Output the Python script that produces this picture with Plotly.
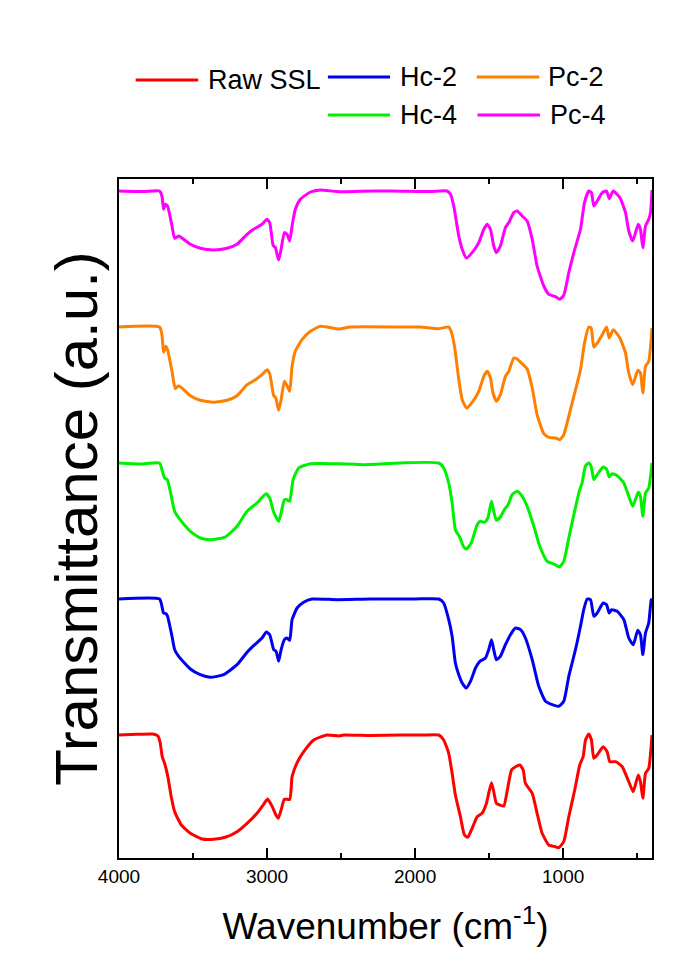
import plotly.graph_objects as go

# FTIR spectra of raw and treated SSL samples, stacked with a constant offset.
# Each band depth is measured downward from the flat baseline (a.u.).

raw_ssl_wn = [4000, 3882, 3770, 3737, 3721, 3708, 3692, 3670, 3647, 3624, 3579, 3518, 3439, 3361, 3282, 3203,
              3135, 3068, 3023, 2996, 2967, 2940, 2924, 2905, 2883, 2847, 2831, 2797, 2752, 2685, 2595, 2516,
              2482, 2300, 2100, 1950, 1840, 1807, 1773, 1750, 1728, 1694, 1667, 1644, 1615, 1581, 1548, 1518,
              1503, 1484, 1469, 1451, 1428, 1401, 1379, 1349, 1322, 1293, 1270, 1255, 1209, 1176, 1142, 1097,
              1052, 1030, 996, 962, 922, 888, 865, 849, 827, 809, 793, 770, 730, 703, 685, 646, 601, 557, 527,
              493, 478, 462, 444, 422, 400]
raw_ssl_depth = [0, -0.7, -1, 1, 8.3, 21.7, 28.3, 41.7, 61.7, 76.7, 90, 98.3, 104, 104.3, 102.3, 96.7,
                 88.3, 78.3, 69.3, 64, 71, 80, 83.3, 75, 64.3, 64.3, 41.7, 27.7, 16.7, 5, 0, 1,
                 0, 0.5, 0, 0, 0, 5, 18.3, 38.3, 60, 81.7, 100, 102.3, 93.3, 81.7, 78.3, 68.3,
                 58.3, 47.7, 56.7, 68.3, 70, 71, 56.7, 35, 31.7, 30, 35, 48.3, 58.3, 78.3, 98.3, 110,
                 111.7, 112.7, 106.7, 81.7, 55, 30, 21.7, 5, -1, 5, 23.3, 20, 11.7, 16.7, 26.7, 26.7, 31.7, 46.7, 56.7,
                 40, 46.7, 63.3, 38.3, 33.3, 0]

hc2_wn = [4000, 3726, 3710, 3699, 3682, 3672, 3642, 3624, 3597, 3518, 3451, 3383, 3293, 3203, 3135, 3091,
          3034, 3005, 2982, 2955, 2939, 2922, 2905, 2883, 2865, 2847, 2831, 2797, 2753, 2696, 2527, 2300,
          2000, 1840, 1807, 1773, 1750, 1728, 1705, 1682, 1655, 1626, 1592, 1563, 1525, 1503, 1484, 1469,
          1451, 1424, 1390, 1356, 1322, 1288, 1255, 1209, 1165, 1119, 1074, 1030, 996, 962, 917, 883,
          861, 838, 815, 793, 770, 730, 707, 689, 673, 635, 590, 557, 527, 496, 478, 462, 444, 422, 405, 400]
hc2_depth = [0, 0, 7.3, 14, 14.7, 17.3, 37.3, 50.7, 57.3, 70, 75.7, 78.3, 75.7, 65.7, 53.3, 46.7,
             39, 33, 35.7, 50.7, 52.3, 62.3, 50.7, 40.7, 39, 41.3, 20.7, 9, 3.3, 0, 0.7, 0,
             0, 0, 4, 20.7, 37.3, 64, 75.7, 84, 89, 82.3, 69, 62.3, 59, 50.7, 40.7, 50.7,
             60.7, 57.3, 45.7, 35.7, 29, 30.7, 39, 60.7, 87.3, 102.3, 105.7, 107.3, 102.3, 77.3, 50.7, 27.3,
             10.7, 0, 0.7, 17.3, 14, 4, 5.7, 14, 10.7, 12.3, 20.7, 39, 45.7, 31.3, 35.7, 55.7, 34, 24, 0.7, 0]

hc4_wn = [4000, 3856, 3726, 3710, 3692, 3674, 3651, 3624, 3587, 3518, 3451, 3383, 3282, 3203, 3135, 3068,
          3007, 2982, 2955, 2922, 2905, 2883, 2865, 2847, 2824, 2786, 2707, 2516, 2347, 2100, 1840, 1807,
          1773, 1750, 1728, 1699, 1674, 1653, 1621, 1581, 1559, 1531, 1509, 1484, 1469, 1451, 1424, 1397,
          1372, 1345, 1311, 1277, 1243, 1198, 1158, 1108, 1063, 1025, 996, 962, 928, 888, 872, 849,
          827, 811, 793, 770, 730, 707, 689, 669, 635, 590, 557, 530, 493, 478, 462, 444, 422, 400]
hc4_depth = [0, 1, 0, 6.7, 15, 16.7, 30, 48.3, 56.7, 68.3, 75, 76.7, 74, 63.3, 48.3, 40,
             30.7, 35, 49.3, 58.3, 50, 36.7, 36.7, 38.3, 16.7, 5, 0.7, 0.7, 1.7, 0, 0, 5,
             20, 40, 66.7, 74, 83.3, 86, 80, 61.7, 58.3, 59.3, 55, 38.3, 48.3, 57.3, 54, 46.7,
             41.7, 31.7, 28.3, 33.3, 43.3, 63.3, 83.3, 98.3, 101, 104, 98.3, 75, 51.7, 26.7, 20, 2.7,
             0, 3.3, 16.7, 11.7, 4, 6, 14, 10.7, 12.7, 20, 33.3, 43.3, 29.3, 33.3, 53.3, 30, 25, 0]

pc2_wn = [4000, 3726, 3710, 3699, 3685, 3672, 3642, 3620, 3597, 3518, 3451, 3361, 3270, 3203, 3135, 3079,
          3034, 3000, 2982, 2955, 2941, 2922, 2905, 2883, 2865, 2847, 2831, 2809, 2764, 2707, 2640, 2516,
          2437, 2100, 1964, 1840, 1773, 1757, 1734, 1705, 1682, 1653, 1615, 1570, 1536, 1513, 1491, 1474,
          1451, 1424, 1390, 1367, 1334, 1311, 1277, 1243, 1209, 1176, 1131, 1097, 1052, 1023, 996, 962,
          928, 883, 856, 827, 811, 793, 770, 736, 707, 689, 662, 617, 579, 557, 530, 496, 478, 462, 444, 422, 400]
pc2_depth = [0, 0, 7.7, 25.3, 19.3, 22.7, 44.3, 61.7, 58.7, 68.7, 73.3, 75.3, 73.3, 68.7, 57.7, 52.7,
             47.7, 42.7, 46.7, 68.7, 71, 83.3, 72.7, 54.3, 58.7, 64.3, 39.3, 24.3, 12.7, 4.3, -0.7, 2,
             0, 0, 0, 1.7, 0, 4.3, 19.3, 52.7, 72.7, 81, 75.3, 64.3, 49.3, 44.3, 51, 66,
             74.3, 67.7, 49.3, 44.3, 31, 32, 36.7, 42, 61, 87.7, 106.7, 110.3, 111, 112.7, 107.7, 89.3,
             69.3, 42.7, 16, 0, 1, 20, 16, 7.7, 0, 11, 2.7, 11, 26, 46, 57.7, 43.3, 46, 66, 39.3, 34.3, 1]

pc4_wn = [4000, 3836, 3726, 3710, 3699, 3687, 3672, 3642, 3624, 3597, 3518, 3451, 3361, 3270, 3203, 3135,
          3091, 3034, 3000, 2982, 2959, 2944, 2922, 2905, 2883, 2865, 2847, 2831, 2809, 2775, 2707, 2640,
          2527, 2370, 2167, 1897, 1784, 1761, 1739, 1705, 1682, 1653, 1615, 1570, 1536, 1513, 1491, 1469,
          1451, 1424, 1390, 1367, 1334, 1311, 1277, 1243, 1209, 1176, 1131, 1097, 1052, 1023, 996, 962,
          928, 883, 856, 827, 809, 793, 770, 736, 707, 689, 662, 617, 579, 557, 530, 493, 478, 462, 444,
          422, 410, 400]
pc4_depth = [0, 0.6, 0, 5, 18.3, 13.3, 15, 35, 47.3, 45, 53.3, 57.3, 59, 57.3, 53.3, 43.3,
             38.3, 33.3, 28.3, 31.6, 54.3, 56.6, 69, 58.3, 41.6, 43.3, 50, 35, 18.3, 8.3, 1, -1,
             0.6, 0.3, 0, 0.6, 0, 3.3, 15, 45, 58.3, 67, 61.6, 51.6, 38.3, 33.3, 38.3, 55,
             61.6, 55, 36.6, 31.6, 21.6, 20, 25, 30, 48.3, 75, 95, 103.3, 105.6, 108.3, 104.3, 81.6,
             61.6, 38.3, 11.6, 0, 1.6, 15, 10, 1.6, 0, 7.6, 0, 6.6, 21.6, 40, 50, 33.3, 38.3, 56.6, 35,
             28.3, 21.6, -1]

series_names = ["Raw SSL", "Hc-2", "Hc-4", "Pc-2", "Pc-4"]
series_colors = ["#FF0000", "#0000F0", "#00F000", "#FF8000", "#FF00FF"]
series_wn = [raw_ssl_wn, hc2_wn, hc4_wn, pc2_wn, pc4_wn]
series_depth = [raw_ssl_depth, hc2_depth, hc4_depth, pc2_depth, pc4_depth]

BASELINE = 123       # flat transmittance level of the lowest spectrum (a.u.)
STACK_STEP = 136     # vertical offset between consecutive spectra (a.u.)

FONT = "Liberation Sans, Arial, sans-serif"

fig = go.Figure()
for k, (name, color, wn, depth) in enumerate(zip(series_names, series_colors, series_wn, series_depth)):
    level = BASELINE + k * STACK_STEP
    fig.add_trace(go.Scatter(
        x=wn, y=[level - d for d in depth], mode="lines", name=name, showlegend=False,
        line=dict(color=color, width=3, shape="spline", smoothing=0.5),
    ))

# Legend: Raw SSL on its own, then the Hc and Pc pairs in two columns.
legend_rows = {
    "Raw SSL": (135.7, 198.2, 80.0, 206),
    "Hc-2": (327.9, 390.0, 77.0, 398),
    "Pc-2": (476.8, 539.3, 77.0, 546),
    "Hc-4": (327.9, 390.0, 115.0, 398),
    "Pc-4": (477.5, 540.0, 115.0, 548),
}
L, R, T, B, W, H = 119, 23, 179, 117, 675, 975
pw, ph = W - L - R, H - T - B


def px_x(v):
    return (v - L) / pw


def px_y(v):
    return (H - B - v) / ph


shapes, annotations = [], []
for name, color in zip(series_names, series_colors):
    x0, x1, yy, tx = legend_rows[name]
    shapes.append(dict(type="line", xref="paper", yref="paper", x0=px_x(x0), x1=px_x(x1),
                       y0=px_y(yy), y1=px_y(yy), line=dict(color=color, width=3)))
    annotations.append(dict(text=name, xref="paper", yref="paper", x=px_x(tx), y=px_y(yy),
                            xanchor="left", yanchor="middle", showarrow=False,
                            font=dict(family=FONT, size=27, color="black")))

fig.update_layout(
    width=W, height=H,
    margin=dict(l=L, r=R, t=T, b=B, pad=0),
    paper_bgcolor="white", plot_bgcolor="white",
    shapes=shapes, annotations=annotations,
    xaxis=dict(
        range=[4000, 400], showgrid=False, zeroline=False,
        showline=True, linecolor="black", linewidth=1.5, mirror="allticks",
        ticks="inside", ticklen=10, tickwidth=1.5, tickcolor="black",
        tick0=0, dtick=1000,
        minor=dict(ticks="inside", ticklen=5, tickwidth=1.5, tickcolor="black", tick0=0, dtick=500),
        tickfont=dict(family=FONT, size=19, color="black"),
        title=dict(text="Wavenumber (cm<sup>-1</sup>)", font=dict(family=FONT, size=37, color="black"),
                   standoff=28),
    ),
    yaxis=dict(
        range=[0, ph], showgrid=False, zeroline=False,
        showline=True, linecolor="black", linewidth=1.5, mirror=True,
        ticks="", showticklabels=False,
        title=dict(text="Transmittance (a.u.)", font=dict(family=FONT, size=60, color="black"),
                   standoff=0),
    ),
)

fig.write_html("out.html")
